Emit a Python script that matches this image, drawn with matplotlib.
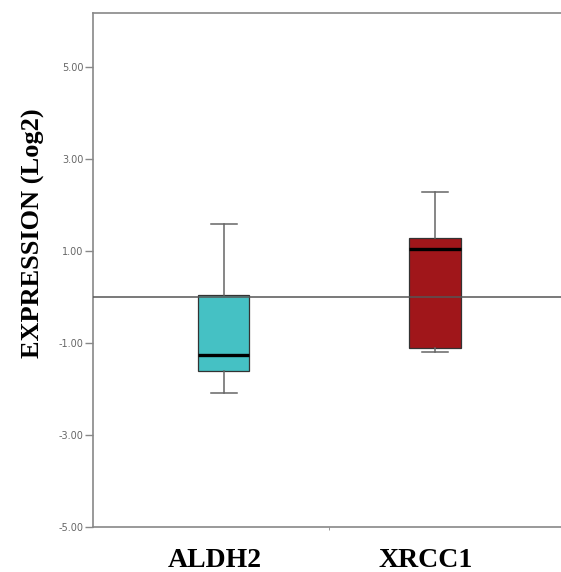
import matplotlib
matplotlib.use("Agg")
import matplotlib.pyplot as plt
import matplotlib.transforms as mtransforms

# box summary values (log2 expression)
genes = ["ALDH2", "XRCC1"]
whisker_low = [-2.08, -1.20]
q1 = [-1.61, -1.10]
medians = [-1.26, 1.04]
q3 = [0.05, 1.28]
whisker_high = [1.58, 2.27]
box_colors = ["#45c1c4", "#a0161a"]

ytick_vals = [-5, -3, -1, 1, 3, 5]

stats = []
for i in range(len(genes)):
    stats.append({"label": genes[i], "whislo": whisker_low[i], "q1": q1[i],
                  "med": medians[i], "q3": q3[i], "whishi": whisker_high[i],
                  "fliers": []})

fig = plt.figure(figsize=(5.61, 5.72), dpi=100)
ax = fig.add_axes([93 / 561, 45 / 572, 1.02 - 93 / 561, (527 - 13) / 572])

bp = ax.bxp(stats, positions=[1, 2], widths=0.245, patch_artist=True,
            showfliers=False,
            boxprops=dict(edgecolor="#333333", linewidth=0.9),
            medianprops=dict(color="black", linewidth=2.4),
            whiskerprops=dict(color="#666666", linewidth=1.1),
            capprops=dict(color="#666666", linewidth=1.1))
for patch, c in zip(bp["boxes"], box_colors):
    patch.set_facecolor(c)
    patch.set_zorder(2)

# reference line at zero drawn over the boxes
ax.axhline(0, color="#555555", linewidth=1.1, zorder=4)

ax.set_ylim(-5, 6.17)
ax.set_xlim(0.382, 2.65)

ax.set_yticks(ytick_vals)
ax.set_yticklabels(["%.2f" % v for v in ytick_vals])
ax.tick_params(axis="y", direction="out", length=6, width=1, color="#888888",
               labelsize=7, labelcolor="#666666", pad=1)

ax.set_xticks([1, 2])
ax.set_xticklabels(genes, fontfamily="Liberation Serif", fontsize=20,
                   fontweight="bold")
ax.set_xticks([1.5], minor=True)
ax.tick_params(axis="x", which="major", length=0, pad=15)
ax.tick_params(axis="x", which="minor", length=2, color="#888888")
shift = mtransforms.ScaledTranslation(-9 / 100, 0, fig.dpi_scale_trans)
for lab in ax.get_xticklabels():
    lab.set_transform(lab.get_transform() + shift)

ax.set_ylabel("EXPRESSION (Log2)", fontfamily="Liberation Serif", fontsize=19,
              fontweight="bold")
ax.yaxis.set_label_coords(-0.100, 0.572)

for s in ax.spines.values():
    s.set_color("#888888")
    s.set_linewidth(1.2)

fig.savefig("out.png", dpi=100)
